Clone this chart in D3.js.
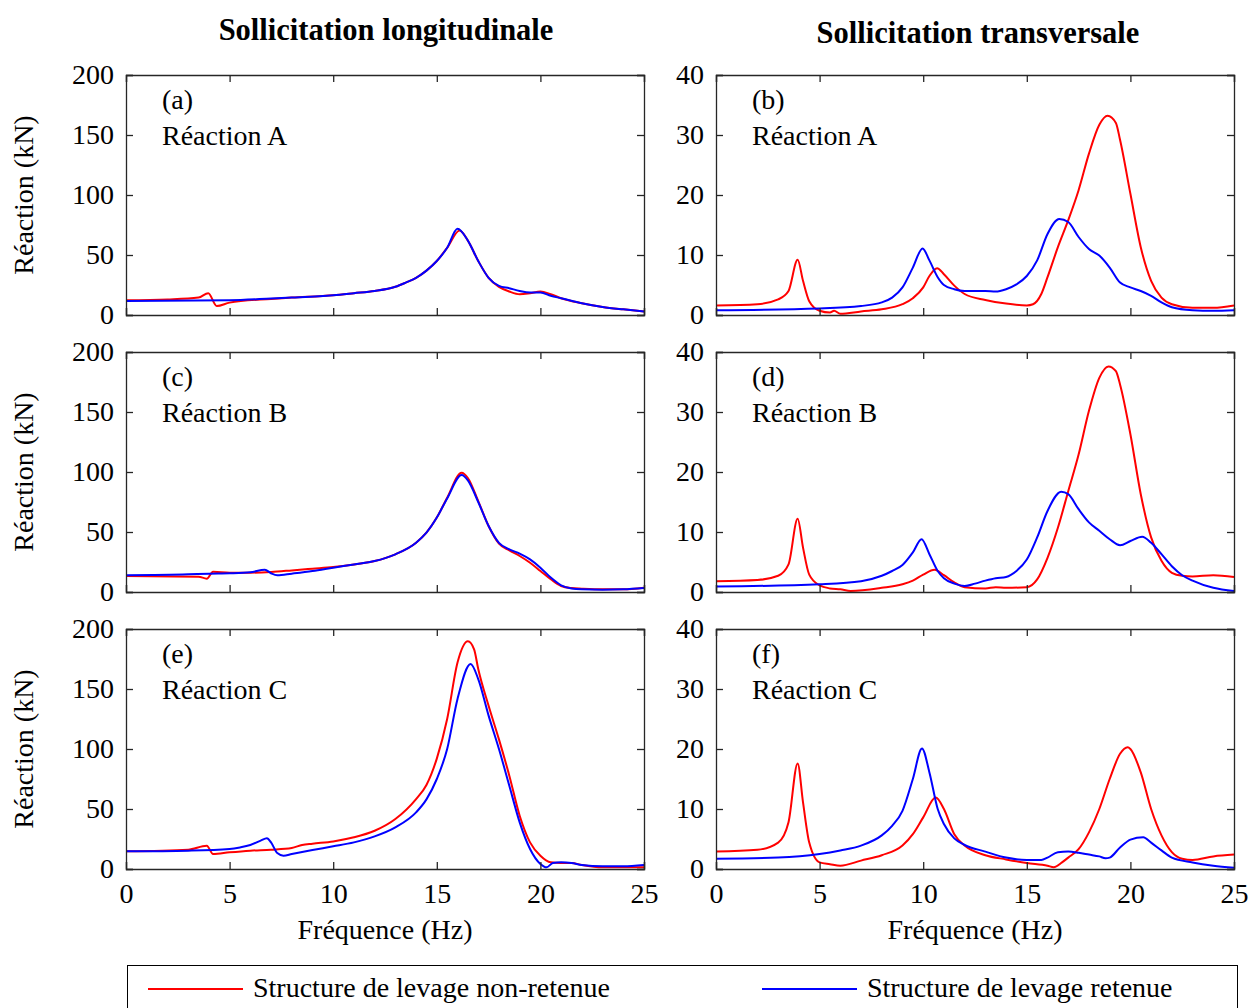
<!DOCTYPE html>
<html>
<head>
<meta charset="utf-8">
<script src="https://cdn.jsdelivr.net/npm/d3@7"></script>
<style>
  body { margin: 0; background: #fff; }
  svg text { font-family: "Liberation Serif", "Times New Roman", serif; fill: #000; }
  .line { fill: none; stroke-width: 2; }
</style>
</head>
<body>
<div id="chart"></div>
<script>
// frequencies in Hz, values in kN: [f, value]
var aRed = [[0,12.3],[2,13],[3.5,14.5],[3.97,18.2],[4.38,7.5],[5,10.3],[7,13.4],[8,14.5],[10,16.5],[11,18.2],[12,20],[13,23.5],[13.5,27],[14,31],[14.5,37],[15,45],[15.5,56],[16.1,70.4],[16.5,62],[17,45],[17.5,31],[18,23.5],[18.5,19.6],[19,17.3],[19.5,18.2],[20,19.6],[20.5,17.3],[21,14],[22,9.8],[23,6.7],[24,4.7],[25,3]];
var aBlue = [[0,11.7],[5,12.3],[7,13.7],[8,14.5],[10,16.5],[11,18.2],[12,20],[13,23.5],[13.5,27],[14,31],[14.5,37],[15,45],[15.5,56],[16.0,71.8],[16.5,62],[17,45],[17.5,31],[18,24.3],[18.5,22.3],[19,20],[19.5,18.7],[20,18.7],[20.5,16],[21,14],[22,9.8],[23,6.7],[24,4.7],[25,3]];

var bRed = [[0,1.6],[2,1.8],[3,2.6],[3.5,4.0],[3.94,9.2],[4.2,5.7],[4.5,2.3],[5,0.7],[5.5,0.4],[5.7,0.7],[6,0.2],[7,0.6],[8,0.95],[9,1.8],[9.5,2.8],[10,4.6],[10.3,6.5],[10.67,7.8],[11,6.8],[11.5,4.9],[12,3.5],[13,2.5],[14,1.9],[15,1.6],[15.3,1.8],[15.7,3.5],[16,6.3],[16.5,11.3],[17,15.8],[17.5,20.8],[18,26.9],[18.5,31.7],[18.9,33.2],[19.3,32],[19.5,29.2],[20,20.2],[20.5,11.3],[21,5.7],[21.5,2.9],[22,1.8],[23,1.2],[24,1.2],[25,1.6]];
var bBlue = [[0,0.8],[5,1.1],[7,1.5],[8,2.1],[8.5,2.9],[9,4.6],[9.5,7.9],[9.97,11.1],[10.3,9.1],[10.7,6.3],[11,5.0],[11.5,4.3],[12,4.0],[13,4.0],[13.5,3.9],[14,4.3],[14.5,5.1],[15,6.5],[15.5,9.1],[16,13.5],[16.57,16.0],[17,15.5],[17.5,13],[18,11],[18.5,9.9],[19,7.9],[19.5,5.4],[20,4.6],[20.5,4.0],[21,3.2],[21.5,2.1],[22,1.3],[23,0.8],[24,0.7],[25,0.8]];

var cRed = [[0,13.3],[3.5,12.8],[3.9,11.1],[4.2,16.9],[5,16.1],[6,16.1],[7,16.7],[8,18],[9,19.4],[10,20.8],[11,23],[12,25.8],[13,31.4],[14,41],[14.5,49.4],[15,62],[15.5,78.6],[16.2,99.4],[16.5,95],[17,75.8],[17.5,55],[18,40.3],[18.5,34.7],[19,30],[19.5,24.4],[20,17.5],[20.5,10.6],[21,5],[21.5,3.3],[22,2.8],[23,2.2],[24,2.2],[25,3.6]];
var cBlue = [[0,13.9],[3,14.7],[4,15.3],[5,15.6],[6,16.4],[6.7,18.6],[7.0,15.6],[7.3,13.9],[8,15.3],[9,17.5],[10,20.3],[11,23],[12,25.8],[13,31.4],[14,41],[14.5,49.4],[15,62],[15.5,78],[16.2,97.5],[16.5,93],[17,75],[17.5,55],[18,41],[18.5,35.6],[19,32],[19.5,27.2],[20,20.3],[20.5,12],[21,5.6],[21.5,3],[22,2.2],[23,1.9],[24,2.2],[25,3.3]];

var dRed = [[0,1.8],[2,2.0],[3,2.7],[3.5,4.6],[3.94,12.2],[4.2,7.4],[4.5,2.9],[5,1.1],[5.5,0.6],[6,0.44],[6.5,0.17],[8,0.7],[9,1.3],[9.5,1.9],[10,2.9],[10.55,3.7],[11,2.8],[11.5,1.6],[12,0.8],[13,0.6],[13.5,0.8],[14,0.7],[15,0.8],[15.5,2.1],[16,5.7],[16.5,10.7],[17,16.8],[17.5,22.9],[18,30.2],[18.5,35.7],[18.94,37.6],[19.3,36.8],[19.5,34.6],[20,26.3],[20.5,16.3],[21,9.1],[21.5,5.2],[22,3.2],[22.5,2.7],[23,2.6],[24,2.8],[25,2.5]];
var dBlue = [[0,0.9],[5,1.3],[7,1.8],[8,2.7],[8.5,3.5],[9,4.5],[9.5,6.6],[9.92,8.8],[10.3,6.3],[10.7,3.5],[11,2.3],[11.5,1.4],[12,1.0],[12.5,1.4],[13,1.9],[13.5,2.3],[14,2.5],[14.5,3.5],[15,5.4],[15.5,9.1],[16,13.5],[16.66,16.7],[17,16.3],[17.5,13.8],[18,11.6],[18.5,10.2],[19,8.8],[19.5,7.8],[20,8.5],[20.57,9.2],[21,8.2],[21.5,6.3],[22,4.3],[22.5,2.8],[23,1.9],[24,0.7],[25,0.17]];

var eRed = [[0,14.7],[3,16.1],[3.9,19.4],[4.2,12.5],[5,13.9],[6,15.3],[7,16.1],[8,17.5],[8.5,20],[9,21.1],[10,23],[11,26.4],[12,31.9],[13,41.7],[14,58.3],[14.5,70],[15,92],[15.5,125],[16,172],[16.5,189.7],[16.8,183],[17,166.7],[17.5,136],[18,108],[18.5,77.8],[19,44.4],[19.5,22.2],[20,11.1],[20.5,5.6],[21,5],[21.5,5],[22,3.3],[23,1.4],[24,1.4],[25,1.4]];
var eBlue = [[0,14.7],[3,15.3],[5,16.7],[5.5,18],[6,20],[6.5,23.6],[6.8,25.6],[7.0,22.2],[7.3,13.3],[7.6,11.1],[8,12.5],[9,15.8],[10,18.9],[11,22.2],[12,27.2],[13,34.7],[14,47.2],[14.5,58],[15,75],[15.5,100],[16,141.7],[16.63,170.8],[17,158.3],[17.5,127.8],[18,100],[18.5,69.4],[19,38.9],[19.5,16.7],[20,4.2],[20.3,1.4],[20.6,5],[21,5.6],[21.5,5],[22,3.3],[23,2.2],[24,2.2],[25,3.3]];

var fRed = [[0,2.9],[2,3.2],[3,4.4],[3.5,7.8],[3.94,17.6],[4.2,11.1],[4.5,4.4],[5,1.1],[5.5,0.8],[6,0.55],[7,1.4],[8,2.3],[9,3.9],[9.5,5.8],[10,8.6],[10.6,11.9],[11,10],[11.5,5.8],[12,3.9],[13,2.3],[14,1.6],[15,1.0],[16,0.55],[16.3,0.3],[16.7,1.1],[17,1.9],[17.5,3.3],[18,6.1],[18.5,10],[19,15],[19.5,19.2],[19.87,20.3],[20,20],[20.5,16.1],[21,10],[21.5,5.6],[22,2.8],[22.5,1.7],[23,1.5],[24,2.1],[25,2.4]];
var fBlue = [[0,1.7],[3,1.9],[5,2.5],[6,3.1],[7,3.9],[8,5.6],[8.5,7.2],[9,9.7],[9.5,15],[9.94,20.1],[10.3,16.1],[10.7,10],[11,7.5],[11.5,5.1],[12,4.0],[13,2.9],[14,1.9],[15,1.5],[15.7,1.5],[16,1.9],[16.5,2.8],[17,2.9],[17.5,2.7],[18,2.4],[18.5,2.1],[18.8,1.8],[19,1.9],[19.5,3.6],[20,4.9],[20.62,5.3],[21,4.4],[21.5,3.1],[22,1.9],[23,1.1],[24,0.55],[25,0.2]];

var panelLabels = ["(a)", "(b)", "(c)", "(d)", "(e)", "(f)"];
var reactions = ["Réaction A", "Réaction B", "Réaction C"];
var columnTitles = ["Sollicitation longitudinale", "Sollicitation transversale"];
var seriesNames = ["Structure de levage non-retenue", "Structure de levage retenue"];
var colors = ["#ff0000", "#0000ff"];
var xTicks = [0, 5, 10, 15, 20, 25];
var yTicksLeft = [0, 50, 100, 150, 200];
var yTicksRight = [0, 10, 20, 30, 40];

var panels = [
  {red: aRed, blue: aBlue}, {red: bRed, blue: bBlue},
  {red: cRed, blue: cBlue}, {red: dRed, blue: dBlue},
  {red: eRed, blue: eBlue}, {red: fRed, blue: fBlue}
];

var W = 1251, H = 1008;
var colX = [126, 716], rowY = [75, 352, 629];
var pw = 518, ph = 240;
var fs = 28;

var svg = d3.select("#chart").append("svg")
    .attr("width", W).attr("height", H);

var x = d3.scaleLinear().domain([0, 25]).range([0, pw]);
var yL = d3.scaleLinear().domain([0, 200]).range([ph, 0]);
var yR = d3.scaleLinear().domain([0, 40]).range([ph, 0]);

panels.forEach(function(p, i) {
  var col = i % 2, row = Math.floor(i / 2);
  var y = col == 0 ? yL : yR;
  var yt = col == 0 ? yTicksLeft : yTicksRight;
  var g = svg.append("g")
      .attr("transform", "translate(" + colX[col] + "," + rowY[row] + ")");

  var line = d3.line()
      .x(function(d) { return x(d[0]); })
      .y(function(d) { return y(d[1]); })
      .curve(d3.curveMonotoneX);

  g.append("path").attr("class", "line").datum(p.red)
      .attr("stroke", colors[0]).attr("d", line);
  g.append("path").attr("class", "line").datum(p.blue)
      .attr("stroke", colors[1]).attr("d", line);

  // axes, ticks inward on all sides
  var bottom = g.append("g").attr("transform", "translate(0," + ph + ")")
      .call(d3.axisBottom(x).tickValues(xTicks).tickSize(-7).tickPadding(14)
        .tickFormat(row == 2 ? d3.format("d") : ""));
  var top = g.append("g")
      .call(d3.axisTop(x).tickValues(xTicks).tickSize(-7).tickFormat(""));
  var left = g.append("g")
      .call(d3.axisLeft(y).tickValues(yt).tickSize(-7).tickPadding(12));
  var right = g.append("g").attr("transform", "translate(" + pw + ",0)")
      .call(d3.axisRight(y).tickValues(yt).tickSize(-7).tickFormat(""));

  [bottom, top, left, right].forEach(function(a) {
    a.select(".domain").attr("stroke", "#262626").attr("stroke-width", 1.3);
    a.selectAll(".tick line").attr("stroke", "#262626").attr("stroke-width", 1.3);
    a.selectAll(".tick text").attr("font-family", "Liberation Serif")
        .attr("font-size", fs).attr("fill", "#000");
  });
  left.selectAll(".tick text").attr("dy", "0.3em");

  g.append("text").attr("x", 36).attr("y", 34)
      .attr("font-size", fs).text(panelLabels[i]);
  g.append("text").attr("x", 36).attr("y", 70)
      .attr("font-size", fs).text(reactions[row]);

  if (col == 0) {
    g.append("text")
        .attr("transform", "translate(-93," + (ph / 2) + ") rotate(-90)")
        .attr("text-anchor", "middle").attr("font-size", fs)
        .text("Réaction (kN)");
  }
  if (row == 2) {
    g.append("text").attr("x", pw / 2).attr("y", 310)
        .attr("text-anchor", "middle").attr("font-size", fs)
        .text("Fréquence (Hz)");
  }
});

svg.append("text").attr("x", 386).attr("y", 40)
    .attr("text-anchor", "middle").attr("font-size", 30.5).attr("font-weight", "bold")
    .text(columnTitles[0]);
svg.append("text").attr("x", 978).attr("y", 43)
    .attr("text-anchor", "middle").attr("font-size", 30.5).attr("font-weight", "bold")
    .text(columnTitles[1]);

// legend
var legend = svg.append("g");
legend.append("rect").attr("x", 127.5).attr("y", 965.5).attr("width", 1110).attr("height", 60)
    .attr("fill", "none").attr("stroke", "#000").attr("stroke-width", 1);
var legX = [148, 762];
seriesNames.forEach(function(name, i) {
  legend.append("line").attr("x1", legX[i]).attr("x2", legX[i] + 95)
      .attr("y1", 989).attr("y2", 989)
      .attr("stroke", colors[i]).attr("stroke-width", 2);
  legend.append("text").attr("x", legX[i] + 105).attr("y", 997)
      .attr("font-size", fs).text(name);
});
</script>
</body>
</html>
